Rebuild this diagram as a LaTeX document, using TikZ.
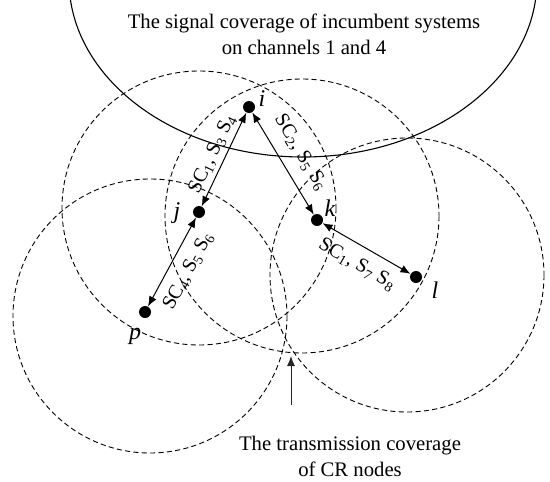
\documentclass[tikz,border=0pt]{standalone}
\usepackage{fontspec}
\setmainfont{Liberation Serif}
\usetikzlibrary{arrows.meta, positioning}

\begin{document}
\begin{tikzpicture}[x=0.5pt, y=-0.5pt,
    crnode/.style={circle, fill=black, inner sep=0pt, minimum size=6pt},
    tag/.style={font=\fontsize{12}{14}\selectfont\itshape, inner sep=0pt},
    crange/.style={dash pattern=on 2.6pt off 1.6pt, line width=0.45pt},
    link/.style={{Latex[length=5pt,width=4pt]}-{Latex[length=5pt,width=4pt]}, line width=0.5pt},
    pointer/.style={-{Latex[length=5pt,width=4pt]}, line width=0.5pt, color=black!85},
    chan/.style={font=\fontsize{10}{12}\selectfont, sloped, inner sep=1pt},
    caption/.style={font=\fontsize{10.35}{13}\selectfont, align=center, inner sep=0pt}
]
\useasboundingbox (0,0) rectangle (550,481);

% incumbent coverage and CR ranges
\draw[line width=0.55pt] (303,-20) ellipse [x radius=234, y radius=177];
\draw[crange] (150,316) circle [radius=137];
\draw[crange] (199,208) circle [radius=137];
\draw[crange] (302,216) circle [radius=137];
\draw[crange] (407,275) circle [radius=137];

\node[crnode] (i) at (249,107) {};
\node[crnode] (j) at (199,212) {};
\node[crnode] (k) at (317,220) {};
\node[crnode] (l) at (416,277) {};
\node[crnode] (p) at (145,312) {};

\node[tag] (ti) at (262,99) {i};
\node[tag] (tj) at (177,213) {j};
\node[tag] (tk) at (330,208) {k};
\node[tag] (tl) at (435,290) {l};
\node[tag] (tp) at (135,336) {p};

\draw[link] (j) -- node[chan, above=1pt] {SC\textsubscript{1}, S\textsubscript{3} S\textsubscript{4}} (i);
\draw[link] (i) -- node[chan, above=5pt] {SC\textsubscript{2}, S\textsubscript{5} S\textsubscript{6}} (k);
\draw[link] (p) -- node[chan, below=4pt] {SC\textsubscript{4}, S\textsubscript{5} S\textsubscript{6}} (j);
\draw[link] (k) -- node[chan, below=4pt] {SC\textsubscript{1}, S\textsubscript{7} S\textsubscript{8}} (l);

\node[caption] (incumbent) at (304,34) {The signal coverage of incumbent systems\\on channels 1 and 4};
\node[caption] (coverage) at (350,456) {The transmission coverage\\of CR nodes};

\coordinate (meet) at (291,356);
\coordinate (tail) at (291,405);
\draw[pointer] (tail) -- (meet);
\end{tikzpicture}
\end{document}
